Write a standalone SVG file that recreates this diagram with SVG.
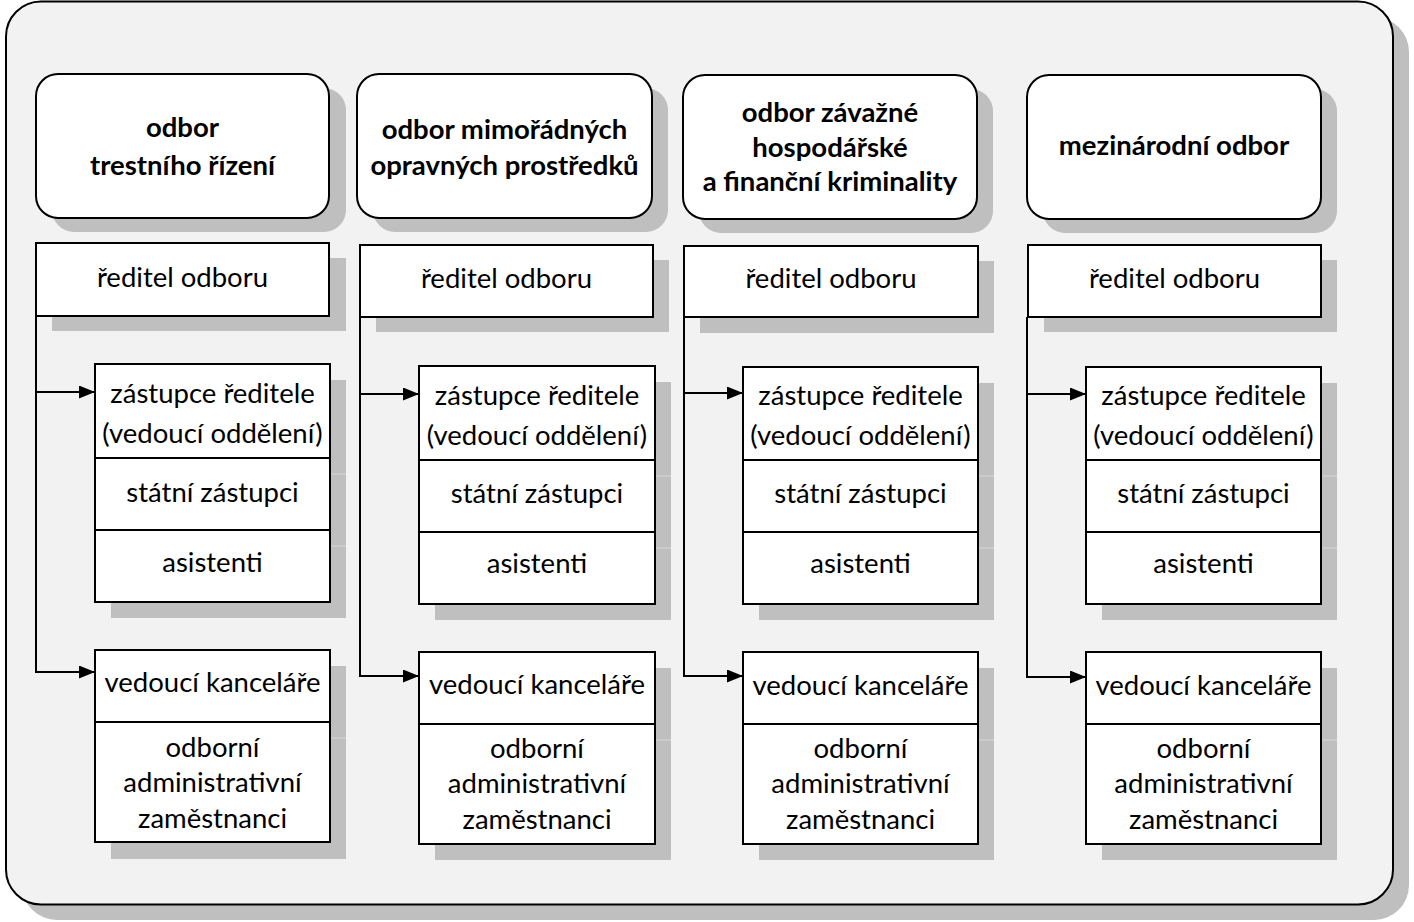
<svg xmlns="http://www.w3.org/2000/svg" width="1414" height="922" viewBox="0 0 1414 922">
<style>
.bg{fill:#f2f2f2;stroke:#000;stroke-width:2}
.sh{fill:#bfbfbf}
.shl{stroke:#cbcbcb;stroke-width:2}
.hd{fill:#fff;stroke:#000;stroke-width:2}
.bx{fill:#fff;stroke:#000;stroke-width:2}
.ln{fill:none;stroke:#000;stroke-width:2}
.ht{font-family:Lato,"Open Sans",sans-serif;font-weight:bold;font-size:27.5px;fill:#000;text-anchor:middle}
.t{font-family:Lato,"Open Sans",sans-serif;font-size:27.5px;fill:#000;text-anchor:middle}
</style>
<defs>
<marker id="ar" viewBox="0 0 16 13" refX="16" refY="6.5" markerWidth="16" markerHeight="13" markerUnits="userSpaceOnUse" orient="auto">
<path d="M0,0 L16,6.5 L0,13 Z" fill="#000"/>
</marker>
</defs>
<g id="frame">
<rect x="22" y="17" width="1387" height="903" rx="35" class="sh"/>
<rect x="6" y="1.5" width="1387" height="903" rx="35" class="bg"/>
</g>
<g id="shadows">
<rect x="52" y="88" width="294" height="144" rx="22" class="sh"/>
<rect x="373" y="88" width="295" height="144" rx="22" class="sh"/>
<rect x="699" y="89" width="294" height="144" rx="22" class="sh"/>
<rect x="1043" y="89" width="294" height="144" rx="22" class="sh"/>
<rect x="52" y="258" width="294" height="73" class="sh"/>
<rect x="376" y="260" width="293" height="72" class="sh"/>
<rect x="700" y="261" width="294" height="72" class="sh"/>
<rect x="1044" y="260" width="293" height="72" class="sh"/>
<rect x="111" y="380" width="235" height="238" class="sh"/>
<line x1="330" y1="474" x2="346" y2="474" class="shl"/><line x1="330" y1="546" x2="346" y2="546" class="shl"/>
<rect x="435" y="382" width="236" height="238" class="sh"/>
<line x1="655" y1="476" x2="671" y2="476" class="shl"/><line x1="655" y1="548" x2="671" y2="548" class="shl"/>
<rect x="759" y="383" width="235" height="237" class="sh"/>
<line x1="978" y1="476" x2="994" y2="476" class="shl"/><line x1="978" y1="548" x2="994" y2="548" class="shl"/>
<rect x="1102" y="383" width="235" height="237" class="sh"/>
<line x1="1321" y1="476" x2="1337" y2="476" class="shl"/><line x1="1321" y1="548" x2="1337" y2="548" class="shl"/>
<rect x="111" y="666" width="235" height="193" class="sh"/>
<line x1="330" y1="738" x2="346" y2="738" class="shl"/>
<rect x="435" y="668" width="236" height="192" class="sh"/>
<line x1="655" y1="740" x2="671" y2="740" class="shl"/>
<rect x="759" y="668" width="235" height="192" class="sh"/>
<line x1="978" y1="740" x2="994" y2="740" class="shl"/>
<rect x="1102" y="668" width="235" height="192" class="sh"/>
<line x1="1321" y1="740" x2="1337" y2="740" class="shl"/>
</g>
<g id="connectors">
<path d="M36,316 V672 H95" class="ln" marker-end="url(#ar)"/>
<path d="M36,392 H95" class="ln" marker-end="url(#ar)"/>
<path d="M360,317 V676 H419" class="ln" marker-end="url(#ar)"/>
<path d="M360,394 H419" class="ln" marker-end="url(#ar)"/>
<path d="M684,317 V676 H743" class="ln" marker-end="url(#ar)"/>
<path d="M684,393 H743" class="ln" marker-end="url(#ar)"/>
<path d="M1027,317 V677 H1086" class="ln" marker-end="url(#ar)"/>
<path d="M1027,394 H1086" class="ln" marker-end="url(#ar)"/>
</g>
<g id="hdr1"><rect x="36" y="74" width="293" height="144" rx="22" class="hd"/>
<text class="ht" x="182.5" y="137">odbor</text><text class="ht" x="182.5" y="175">trestního řízení</text></g>
<g id="hdr2"><rect x="357" y="74" width="295" height="144" rx="22" class="hd"/>
<text class="ht" x="504.5" y="139">odbor mimořádných</text><text class="ht" x="504.5" y="175">opravných prostředků</text></g>
<g id="hdr3"><rect x="683" y="75" width="294" height="144" rx="22" class="hd"/>
<text class="ht" x="830" y="122">odbor závažné</text><text class="ht" x="830" y="157">hospodářské</text><text class="ht" x="830" y="191">a finanční kriminality</text></g>
<g id="hdr4"><rect x="1027" y="75" width="294" height="144" rx="22" class="hd"/>
<text class="ht" x="1174" y="155">mezinárodní odbor</text></g>
<g id="dir1"><rect x="36" y="243" width="293" height="73" class="bx"/><text class="t" x="182.5" y="287">ředitel odboru</text></g>
<g id="dir2"><rect x="360" y="245" width="293" height="72" class="bx"/><text class="t" x="506.5" y="288">ředitel odboru</text></g>
<g id="dir3"><rect x="684" y="246" width="294" height="71" class="bx"/><text class="t" x="831" y="288">ředitel odboru</text></g>
<g id="dir4"><rect x="1028" y="245" width="293" height="72" class="bx"/><text class="t" x="1174.5" y="288">ředitel odboru</text></g>
<g id="dep1"><rect x="95" y="364" width="235" height="94" class="bx"/><rect x="95" y="458" width="235" height="72" class="bx"/><rect x="95" y="530" width="235" height="72" class="bx"/>
<text class="t" x="212.5" y="403">zástupce ředitele</text><text class="t" x="212.5" y="443">(vedoucí oddělení)</text><text class="t" x="212.5" y="502">státní zástupci</text><text class="t" x="212.5" y="572">asistenti</text></g>
<g id="dep2"><rect x="419" y="366" width="236" height="94" class="bx"/><rect x="419" y="460" width="236" height="72" class="bx"/><rect x="419" y="532" width="236" height="72" class="bx"/>
<text class="t" x="537" y="405">zástupce ředitele</text><text class="t" x="537" y="445">(vedoucí oddělení)</text><text class="t" x="537" y="503">státní zástupci</text><text class="t" x="537" y="573">asistenti</text></g>
<g id="dep3"><rect x="743" y="367" width="235" height="93" class="bx"/><rect x="743" y="460" width="235" height="72" class="bx"/><rect x="743" y="532" width="235" height="72" class="bx"/>
<text class="t" x="860.5" y="405">zástupce ředitele</text><text class="t" x="860.5" y="445">(vedoucí oddělení)</text><text class="t" x="860.5" y="503">státní zástupci</text><text class="t" x="860.5" y="573">asistenti</text></g>
<g id="dep4"><rect x="1086" y="367" width="235" height="93" class="bx"/><rect x="1086" y="460" width="235" height="72" class="bx"/><rect x="1086" y="532" width="235" height="72" class="bx"/>
<text class="t" x="1203.5" y="405">zástupce ředitele</text><text class="t" x="1203.5" y="445">(vedoucí oddělení)</text><text class="t" x="1203.5" y="503">státní zástupci</text><text class="t" x="1203.5" y="573">asistenti</text></g>
<g id="off1"><rect x="95" y="650" width="235" height="72" class="bx"/><rect x="95" y="722" width="235" height="120" class="bx"/>
<text class="t" x="212.5" y="692">vedoucí kanceláře</text><text class="t" x="212.5" y="757">odborní</text><text class="t" x="212.5" y="792">administrativní</text><text class="t" x="212.5" y="828">zaměstnanci</text></g>
<g id="off2"><rect x="419" y="652" width="236" height="72" class="bx"/><rect x="419" y="724" width="236" height="120" class="bx"/>
<text class="t" x="537" y="694">vedoucí kanceláře</text><text class="t" x="537" y="758">odborní</text><text class="t" x="537" y="793">administrativní</text><text class="t" x="537" y="829">zaměstnanci</text></g>
<g id="off3"><rect x="743" y="652" width="235" height="72" class="bx"/><rect x="743" y="724" width="235" height="120" class="bx"/>
<text class="t" x="860.5" y="695">vedoucí kanceláře</text><text class="t" x="860.5" y="758">odborní</text><text class="t" x="860.5" y="793">administrativní</text><text class="t" x="860.5" y="829">zaměstnanci</text></g>
<g id="off4"><rect x="1086" y="652" width="235" height="72" class="bx"/><rect x="1086" y="724" width="235" height="120" class="bx"/>
<text class="t" x="1203.5" y="695">vedoucí kanceláře</text><text class="t" x="1203.5" y="758">odborní</text><text class="t" x="1203.5" y="793">administrativní</text><text class="t" x="1203.5" y="829">zaměstnanci</text></g>
</svg>
